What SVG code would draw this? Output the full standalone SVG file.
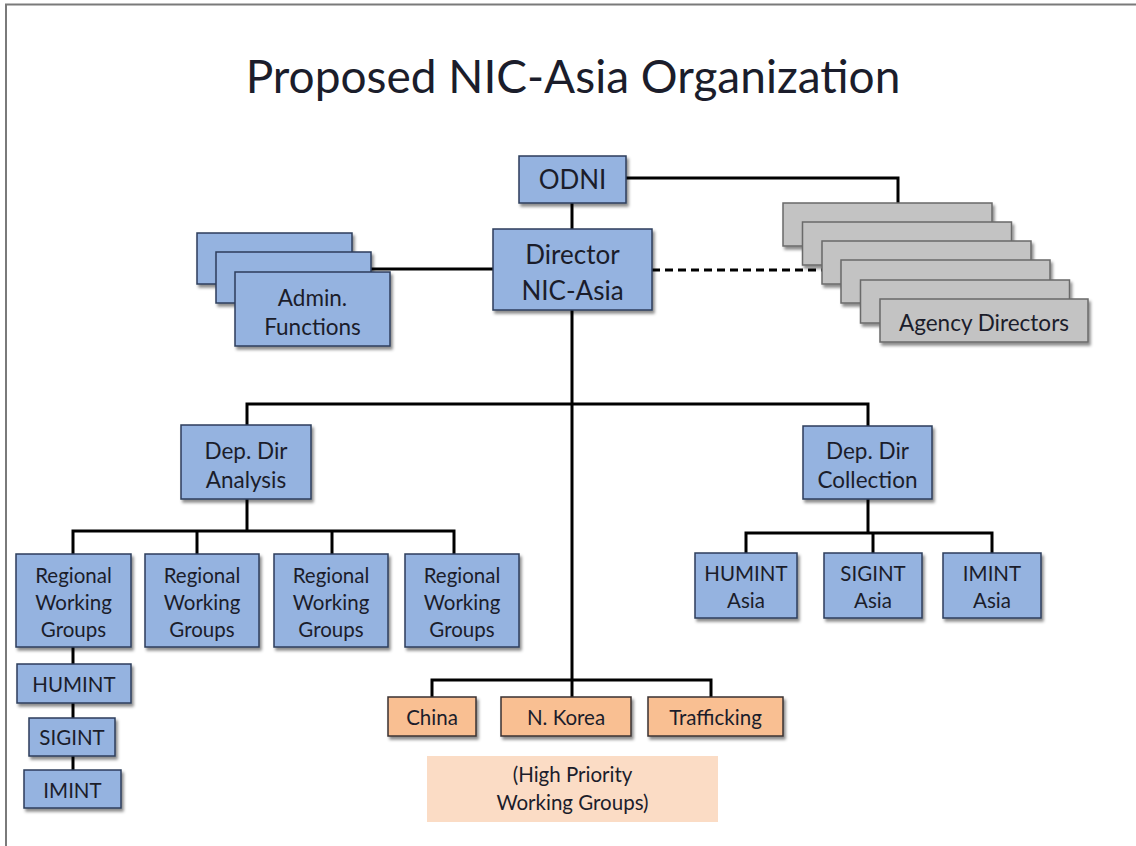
<svg xmlns="http://www.w3.org/2000/svg" width="1136" height="846" viewBox="0 0 1136 846">
  <defs>
    <filter id="shadow" x="-10%" y="-10%" width="130%" height="140%">
      <feDropShadow dx="2" dy="3" stdDeviation="1.8" flood-color="#000" flood-opacity="0.45"/>
    </filter>
    <style>
      .blue { fill: #95b3e0; stroke: #2c3d5c; stroke-width: 1.5; filter: url(#shadow); }
      .gray { fill: #c3c3c3; stroke: #6a6a6a; stroke-width: 1.5; filter: url(#shadow); }
      .orange { fill: #f9bf92; stroke: #3a3030; stroke-width: 1.5; filter: url(#shadow); }
      .lbl { font-family: Lato, "Open Sans", "Liberation Sans", sans-serif; fill: #1b1d2b; text-anchor: middle; }
      .l24 { font-size: 26px; }
      .l21 { font-size: 22.5px; }
      .l19 { font-size: 20.5px; }
      .wire { fill: none; stroke: #000; stroke-width: 3; }
      .dash { fill: none; stroke: #000; stroke-width: 3; stroke-dasharray: 8 5; }
    </style>
  </defs>

  <rect width="1136" height="846" fill="#fff"/>
  <!-- page frame (top and left edges) -->
  <path d="M6 846 V4.5 H1136" fill="none" stroke="#7a7a7a" stroke-width="2"/>

  <text x="573" y="93" class="lbl" style="font-size:46px">Proposed NIC-Asia Organization</text>

  <!-- connectors -->
  <g id="connectors">
    <line class="wire" x1="572" y1="203" x2="572" y2="229"/>
    <polyline class="wire" points="626,178 898,178 898,204"/>
    <line class="wire" x1="371" y1="269" x2="493" y2="269"/>
    <line class="dash" x1="652" y1="270" x2="822" y2="270"/>
    <line class="wire" x1="572" y1="310" x2="572" y2="680"/>
    <polyline class="wire" points="247,425 247,404 868,404 868,426"/>
    <line class="wire" x1="247" y1="499" x2="247" y2="531"/>
    <polyline class="wire" points="73,554 73,531 454,531 454,554"/>
    <line class="wire" x1="197" y1="531" x2="197" y2="554"/>
    <line class="wire" x1="332" y1="531" x2="332" y2="554"/>
    <line class="wire" x1="73" y1="647" x2="73" y2="770"/>
    <line class="wire" x1="868" y1="499" x2="868" y2="533"/>
    <polyline class="wire" points="746,553 746,533 992,533 992,553"/>
    <line class="wire" x1="873" y1="533" x2="873" y2="553"/>
    <polyline class="wire" points="432,697 432,680 711,680 711,697"/>
    <line class="wire" x1="572" y1="680" x2="572" y2="697"/>
  </g>

  <g id="odni">
    <rect class="blue" x="519" y="156" width="107" height="47"/>
    <text class="lbl l24" x="572.5" y="189">ODNI</text>
  </g>

  <g id="director">
    <rect class="blue" x="493" y="229" width="159" height="81"/>
    <text class="lbl l24" x="572.5" y="264">Director</text>
    <text class="lbl l24" x="572.5" y="300">NIC-Asia</text>
  </g>

  <g id="admin-functions">
    <rect class="blue" x="197" y="233" width="155" height="51"/>
    <rect class="blue" x="216" y="252" width="155" height="51"/>
    <rect class="blue" x="235" y="272" width="155" height="74"/>
    <text class="lbl l21" x="312.5" y="306">Admin.</text>
    <text class="lbl l21" x="312.5" y="335">Functions</text>
  </g>

  <g id="agency-directors">
    <rect class="gray" x="783" y="203" width="209" height="43"/>
    <rect class="gray" x="802.5" y="222" width="209" height="43"/>
    <rect class="gray" x="822" y="241" width="209" height="43"/>
    <rect class="gray" x="841" y="260" width="209" height="43"/>
    <rect class="gray" x="860.5" y="280" width="209" height="43"/>
    <rect class="gray" x="880" y="299" width="208" height="43"/>
    <text class="lbl l21" x="984" y="331">Agency Directors</text>
  </g>

  <g id="dep-dir-analysis">
    <rect class="blue" x="181" y="425" width="130" height="74"/>
    <text class="lbl l21" x="246" y="459">Dep. Dir</text>
    <text class="lbl l21" x="246" y="488">Analysis</text>
  </g>

  <g id="dep-dir-collection">
    <rect class="blue" x="803" y="426" width="129" height="73"/>
    <text class="lbl l21" x="867.5" y="459">Dep. Dir</text>
    <text class="lbl l21" x="867.5" y="488">Collection</text>
  </g>

  <g id="regional-1">
    <rect class="blue" x="16" y="554" width="115" height="93"/>
    <text class="lbl l19" x="73.5" y="583">Regional</text>
    <text class="lbl l19" x="73.5" y="610">Working</text>
    <text class="lbl l19" x="73.5" y="637">Groups</text>
  </g>
  <g id="regional-2">
    <rect class="blue" x="145" y="554" width="114" height="93"/>
    <text class="lbl l19" x="202" y="583">Regional</text>
    <text class="lbl l19" x="202" y="610">Working</text>
    <text class="lbl l19" x="202" y="637">Groups</text>
  </g>
  <g id="regional-3">
    <rect class="blue" x="274" y="554" width="114" height="93"/>
    <text class="lbl l19" x="331" y="583">Regional</text>
    <text class="lbl l19" x="331" y="610">Working</text>
    <text class="lbl l19" x="331" y="637">Groups</text>
  </g>
  <g id="regional-4">
    <rect class="blue" x="405" y="554" width="114" height="93"/>
    <text class="lbl l19" x="462" y="583">Regional</text>
    <text class="lbl l19" x="462" y="610">Working</text>
    <text class="lbl l19" x="462" y="637">Groups</text>
  </g>

  <g id="humint">
    <rect class="blue" x="17" y="664" width="114" height="39"/>
    <text class="lbl l19" x="74" y="692">HUMINT</text>
  </g>
  <g id="sigint">
    <rect class="blue" x="29" y="718" width="86" height="38"/>
    <text class="lbl l19" x="72" y="745">SIGINT</text>
  </g>
  <g id="imint">
    <rect class="blue" x="24" y="770" width="97" height="38"/>
    <text class="lbl l19" x="72.5" y="798">IMINT</text>
  </g>

  <g id="humint-asia">
    <rect class="blue" x="695" y="553" width="102" height="65"/>
    <text class="lbl l19" x="746" y="581">HUMINT</text>
    <text class="lbl l19" x="746" y="608">Asia</text>
  </g>
  <g id="sigint-asia">
    <rect class="blue" x="824" y="553" width="98" height="65"/>
    <text class="lbl l19" x="873" y="581">SIGINT</text>
    <text class="lbl l19" x="873" y="608">Asia</text>
  </g>
  <g id="imint-asia">
    <rect class="blue" x="943" y="553" width="98" height="65"/>
    <text class="lbl l19" x="992" y="581">IMINT</text>
    <text class="lbl l19" x="992" y="608">Asia</text>
  </g>

  <g id="china">
    <rect class="orange" x="388" y="697" width="88" height="39"/>
    <text class="lbl l19" x="432" y="725">China</text>
  </g>
  <g id="n-korea">
    <rect class="orange" x="501" y="697" width="130" height="39"/>
    <text class="lbl l19" x="566" y="725">N. Korea</text>
  </g>
  <g id="trafficking">
    <rect class="orange" x="648" y="697" width="135" height="39"/>
    <text class="lbl l19" x="715.5" y="725">Trafficking</text>
  </g>

  <g id="high-priority-note">
    <rect x="427" y="756" width="291" height="66" fill="#fbdcc5"/>
    <text class="lbl l19" x="572.5" y="782">(High Priority</text>
    <text class="lbl l19" x="572.5" y="810">Working Groups)</text>
  </g>
</svg>
